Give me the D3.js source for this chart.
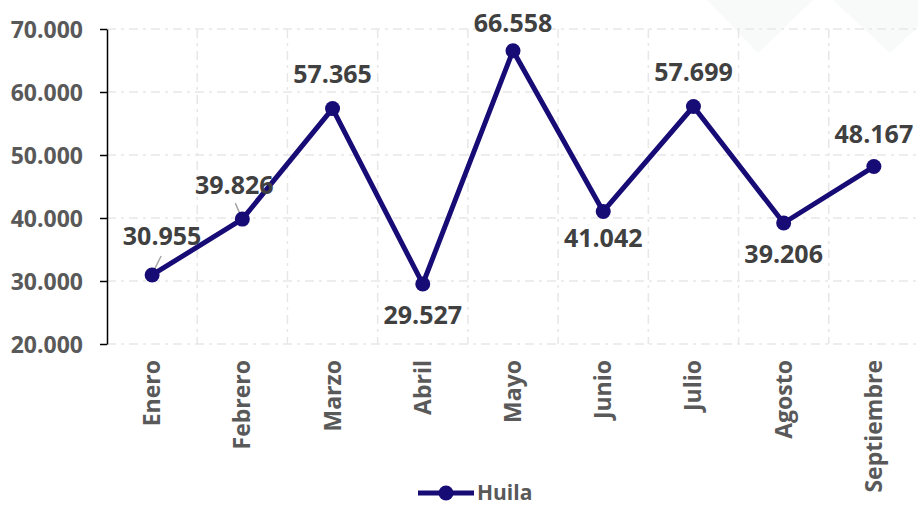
<!DOCTYPE html>
<html>
<head>
<meta charset="utf-8">
<script src="https://cdn.jsdelivr.net/npm/d3@7"></script>
<style>
    html, body { margin: 0; padding: 0; background: #fff; overflow: hidden; }
    svg { display: block; font-family: "Open Sans", sans-serif; font-weight: 700; }
</style>
</head>
<body>
<svg id="chart"></svg>
<script>
"use strict";

const months = ["Enero", "Febrero", "Marzo", "Abril", "Mayo", "Junio", "Julio", "Agosto", "Septiembre"];
const huila = [30955, 39826, 57365, 29527, 66558, 41042, 57699, 39206, 48167];
const yTicks = [20000, 30000, 40000, 50000, 60000, 70000];
const seriesName = "Huila";

const width = 918;
const height = 506;
const LINE_COLOR = "#170b75";
const margin = { left: 107, right: 0, top: 29, bottom: 344 };

const fmt = d3.formatLocale({ decimal: ",", thousands: ".", grouping: [3], currency: ["$", ""] }).format(",.0f");

const svg = d3.select("#chart")
    .attr("width", width)
    .attr("height", height);

// faint background shapes
svg.append("g")
    .selectAll("path")
    .data([[[707, 0], [758, 53], [813, 0]], [[833, 0], [890, 53], [947, 0]]])
    .join("path")
    .attr("d", d => "M" + d.join("L") + "Z")
    .attr("fill", "#f8f9f9");

const x = d3.scaleBand()
    .domain(months)
    .range([margin.left, 919]);

const y = d3.scaleLinear()
    .domain([20000, 70000])
    .range([margin.bottom, margin.top]);

const grid = svg.append("g")
    .attr("stroke", "#e7e7e7")
    .attr("stroke-width", 1.5)
    .attr("stroke-dasharray", "9,5,3,5");

grid.selectAll(".hgrid")
    .data(yTicks)
    .join("line")
    .attr("class", "hgrid")
    .attr("x1", margin.left)
    .attr("x2", width)
    .attr("y1", d => y(d))
    .attr("y2", d => y(d));

grid.selectAll(".vgrid")
    .data(months.slice(1).concat(["__end"]))
    .join("line")
    .attr("class", "vgrid")
    .attr("x1", (d, i) => margin.left + (i + 1) * x.bandwidth())
    .attr("x2", (d, i) => margin.left + (i + 1) * x.bandwidth())
    .attr("y1", margin.top)
    .attr("y2", margin.bottom);

// y axis
const yAxis = svg.append("g")
    .attr("transform", `translate(${margin.left},0)`)
    .call(d3.axisLeft(y).tickValues(yTicks).tickFormat(fmt).tickSize(7).tickSizeOuter(0).tickPadding(17));
yAxis.select(".domain").attr("stroke", "#000").attr("stroke-width", 1.5);
yAxis.selectAll(".tick line").attr("stroke", "#000").attr("stroke-width", 1.5);
yAxis.selectAll(".tick text")
    .attr("fill", "#595959")
    .attr("font-size", 23)
    .attr("font-family", "Open Sans, sans-serif")
    .attr("font-weight", 700)
    .attr("dy", "0.36em");

// x labels
svg.append("g")
    .selectAll("text")
    .data(months)
    .join("text")
    .attr("transform", d => `translate(${x(d) + x.bandwidth() / 2 + 8},360) rotate(-90)`)
    .attr("text-anchor", "end")
    .attr("fill", "#595959")
    .attr("font-size", 23)
    .text(d => d);

const pts = months.map((m, i) => ({ m, v: huila[i], px: x(m) + x.bandwidth() / 2, py: y(huila[i]) }));

// label placement: [dx, dy of baseline]
const labelPlacement = [[10, -30], [-8, -25], [0, -26], [0, 40], [0, -19], [0, 36], [0, -25], [0, 40], [0, -24]];
const leaders = { 0: [[9, -19], [2, -5]], 1: [[-7, -16], [-1, -2]] };

svg.append("g")
    .selectAll("line")
    .data(Object.entries(leaders))
    .join("line")
    .attr("x1", d => pts[d[0]].px + d[1][0][0])
    .attr("y1", d => pts[d[0]].py + d[1][0][1])
    .attr("x2", d => pts[d[0]].px + d[1][1][0])
    .attr("y2", d => pts[d[0]].py + d[1][1][1])
    .attr("stroke", "#a6a6a6")
    .attr("stroke-width", 1.5);

svg.append("path")
    .datum(pts)
    .attr("fill", "none")
    .attr("stroke", LINE_COLOR)
    .attr("stroke-width", 5)
    .attr("stroke-linejoin", "round")
    .attr("d", d3.line().x(d => d.px).y(d => d.py));

svg.append("g")
    .selectAll("circle")
    .data(pts)
    .join("circle")
    .attr("cx", d => d.px)
    .attr("cy", d => d.py)
    .attr("r", 7.5)
    .attr("fill", LINE_COLOR);

svg.append("g")
    .selectAll("text")
    .data(pts)
    .join("text")
    .attr("x", (d, i) => d.px + labelPlacement[i][0])
    .attr("y", (d, i) => d.py + labelPlacement[i][1])
    .attr("text-anchor", "middle")
    .attr("fill", "#404040")
    .attr("font-size", 25)
    .text(d => fmt(d.v));

// legend
const legend = svg.append("g").attr("transform", "translate(418,493)");
legend.append("line")
    .attr("x1", 0).attr("x2", 56)
    .attr("stroke", LINE_COLOR)
    .attr("stroke-width", 5);
legend.append("circle")
    .attr("cx", 28)
    .attr("r", 7.5)
    .attr("fill", LINE_COLOR);
legend.append("text")
    .attr("x", 59)
    .attr("y", 7)
    .attr("fill", "#595959")
    .attr("font-size", 21)
    .text(seriesName);
</script>
</body>
</html>
